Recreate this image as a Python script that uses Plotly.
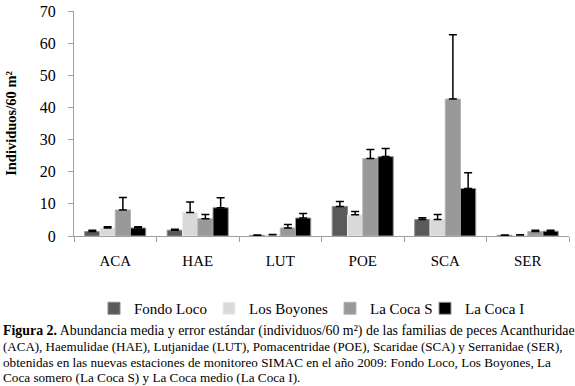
import plotly.graph_objects as go

categories = ["ACA", "HAE", "LUT", "POE", "SCA", "SER"]
series_names = ["Fondo Loco", "Los Boyones", "La Coca S", "La Coca I"]
fondo_loco = [1.4, 1.8, 0.2, 9.2, 5.1, 0.2]
fondo_loco_err = [0.4, 0.3, 0.1, 1.5, 0.6, 0.1]
los_boyones = [2.5, 7.3, 0.4, 6.6, 5.1, 0.3]
los_boyones_err = [0.4, 3.3, 0.1, 1.0, 1.6, 0.1]
la_coca_s = [8.1, 5.4, 2.5, 24.1, 42.6, 1.4]
la_coca_s_err = [3.9, 1.3, 1.1, 2.8, 20.0, 0.4]
la_coca_i = [2.5, 8.8, 5.6, 24.7, 14.8, 1.5]
la_coca_i_err = [0.4, 3.1, 1.4, 2.5, 4.9, 0.3]
y_ticks = [0, 10, 20, 30, 40, 50, 60, 70]

values = [fondo_loco, los_boyones, la_coca_s, la_coca_i]
errors = [fondo_loco_err, los_boyones_err, la_coca_s_err, la_coca_i_err]
colors = ["#5a5a5a", "#d9d9d9", "#999999", "#000000"]
edges = ["#8a8a8a", "#eeeeee", "#b5b5b5", "#9a9a9a"]
legend_ids = ["legend", "legend2", "legend3", "legend4"]
legend_x = [94, 209, 330, 425]

SERIF = "Liberation Serif"
W, H = 575, 386
ML, MR, MT, MB = 74, 6, 11, 150
PH = H - MT - MB

fig = go.Figure()
for name, v, e, c, ec, lg in zip(series_names, values, errors, colors, edges, legend_ids):
    fig.add_trace(go.Bar(
        x=categories, y=v, name=name, legend=lg,
        marker=dict(color=c, line=dict(color=ec, width=1)),
        error_y=dict(type="data", array=e, arrayminus=[0] * len(e), symmetric=False,
                     color="#000000", thickness=1.5, width=4),
    ))

caption = [
    "<b>Figura 2.</b> Abundancia media y error estándar (individuos/60 m²) de las familias de peces Acanthuridae",
    "(ACA), Haemulidae (HAE), Lutjanidae (LUT), Pomacentridae (POE), Scaridae (SCA) y Serranidae (SER),",
    "obtenidas en las nuevas estaciones de monitoreo SIMAC en el año 2009: Fondo Loco, Los Boyones, La",
    "Coca somero (La Coca S) y La Coca medio (La Coca I).",
]
caption_y = [331, 346, 362, 377]
caption_size = [13.9, 13.0, 13.2, 13.2]
annotations = []
for line, cy, fs in zip(caption, caption_y, caption_size):
    annotations.append(dict(
        text=line, xref="paper", yref="paper", x=-(ML - 1) / (W - ML - MR), y=(H - MB - cy) / PH,
        xanchor="left", yanchor="middle", showarrow=False,
        font=dict(family=SERIF, size=fs, color="#000000"),
    ))

legend_common = dict(orientation="h", xref="container", yref="container",
                     yanchor="middle", font=dict(family=SERIF, size=15, color="#000000"),
                     bgcolor="rgba(0,0,0,0)", itemwidth=30)
layout_legends = {}
for lg, lx in zip(legend_ids, legend_x):
    layout_legends[lg] = dict(legend_common, x=lx / W, y=1 - 308.5 / H, xanchor="left")

fig.update_layout(
    width=W, height=H,
    margin=dict(l=ML, r=MR, t=MT, b=MB, autoexpand=False),
    paper_bgcolor="white", plot_bgcolor="white",
    barmode="group", bargap=0.26, bargroupgap=0,
    font=dict(family=SERIF, size=15, color="#000000"),
    showlegend=True,
    annotations=annotations,
    xaxis=dict(
        showline=True, linecolor="#a0a0a0", linewidth=1, automargin=False,
        ticks="outside", tickson="boundaries", ticklen=5, tickcolor="#a0a0a0",
        ticklabelstandoff=11, tickfont=dict(family=SERIF, size=15),
        showgrid=False, zeroline=False,
    ),
    yaxis=dict(
        range=[0, 70], tickvals=y_ticks, showline=True, linecolor="#a0a0a0", linewidth=1,
        automargin=False,
        ticks="outside", ticklen=5, tickcolor="#a0a0a0", ticklabelstandoff=9,
        tickfont=dict(family=SERIF, size=16), showgrid=False, zeroline=False,
        title=dict(text="<b>Individuos/60 m²</b>", font=dict(family=SERIF, size=14.5), standoff=19),
    ),
    **layout_legends,
)

fig.write_html(
    "out.html",
    config={"displayModeBar": False},
    post_script="document.body.style.margin='0';document.body.style.padding='0';document.body.style.overflow='hidden';",
)
